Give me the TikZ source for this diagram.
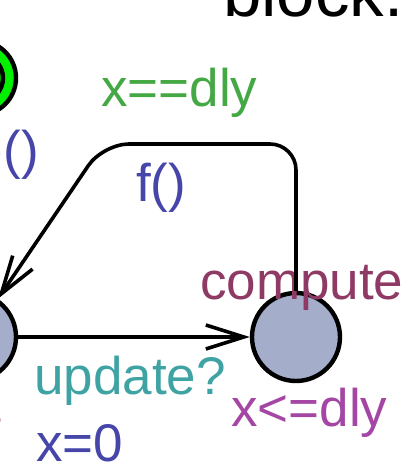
\documentclass[tikz,border=0pt]{standalone}
\usepackage{fontspec}
\setmainfont{Liberation Sans}
\usetikzlibrary{arrows.meta,positioning}
\definecolor{locfill}{HTML}{A4AECB}
\definecolor{initgreen}{HTML}{00F000}
\definecolor{namec}{HTML}{8E3A65}
\definecolor{invc}{HTML}{A447A4}
\definecolor{guardc}{HTML}{44A844}
\definecolor{syncc}{HTML}{40A3A3}
\definecolor{assignc}{HTML}{4646AA}
\newcommand\lblfont{\fontsize{53}{60}\selectfont}
\tikzset{
  loc/.style={circle, draw=black, fill=locfill, line width=4.4pt,
    minimum size=88pt, inner sep=0pt},
  initloc/.style={loc, fill=initgreen, minimum size=74pt},
  initring/.style={circle, draw=black, line width=4.4pt, minimum size=48pt, inner sep=0pt},
  edge/.style={-{Straight Barb[length=38pt,width=24pt]}, line width=3.6pt, color=black},
  lbl/.style={font=\lblfont, inner sep=0pt, anchor=base west},
}
\begin{document}
\begin{tikzpicture}[x=1pt,y=1pt]
  \clip (0,0) rectangle (418,476);
  \useasboundingbox (0,0) rectangle (418,476);
  % locations
  \node[initloc] (init) at (-21,398) {};
  \node[initring] (initin) at (init) {};
  \node[loc] (wait) at (-28,139) {};
  \node[loc] (compute) at (296,139) {};
  \node[lbl, anchor=base east, text=namec] (waitname) at (1,53) {wait};
  \node[lbl, text=namec] (compname) at (200,176) {compute};
  \node[lbl, text=invc] (compinv) at (231,49) {x<=dly};
  % edges
  \coordinate (nr) at (296,332);
  \coordinate (nl) at (103,332);
  \draw[edge] (wait) -- (compute);
  \draw[edge, rounded corners=26pt] (compute.north) -- (nr) -- (nl) -- (wait);
  % edge labels
  \node[lbl, anchor=base east, text=assignc] (initupd) at (39,307) {initialize()};
  \node[lbl, text=guardc] (guard) at (101,369) {x==dly};
  \node[lbl, text=assignc] (fcall) at (136,274) {f()};
  \node[lbl, text=syncc] (sync) at (34,81) {update?};
  \node[lbl, text=assignc] (reset) at (36,14) {x=0};
  \node[lbl, font=\fontsize{69}{80}\selectfont] (title) at (223,459) {block.};
\end{tikzpicture}
\end{document}
